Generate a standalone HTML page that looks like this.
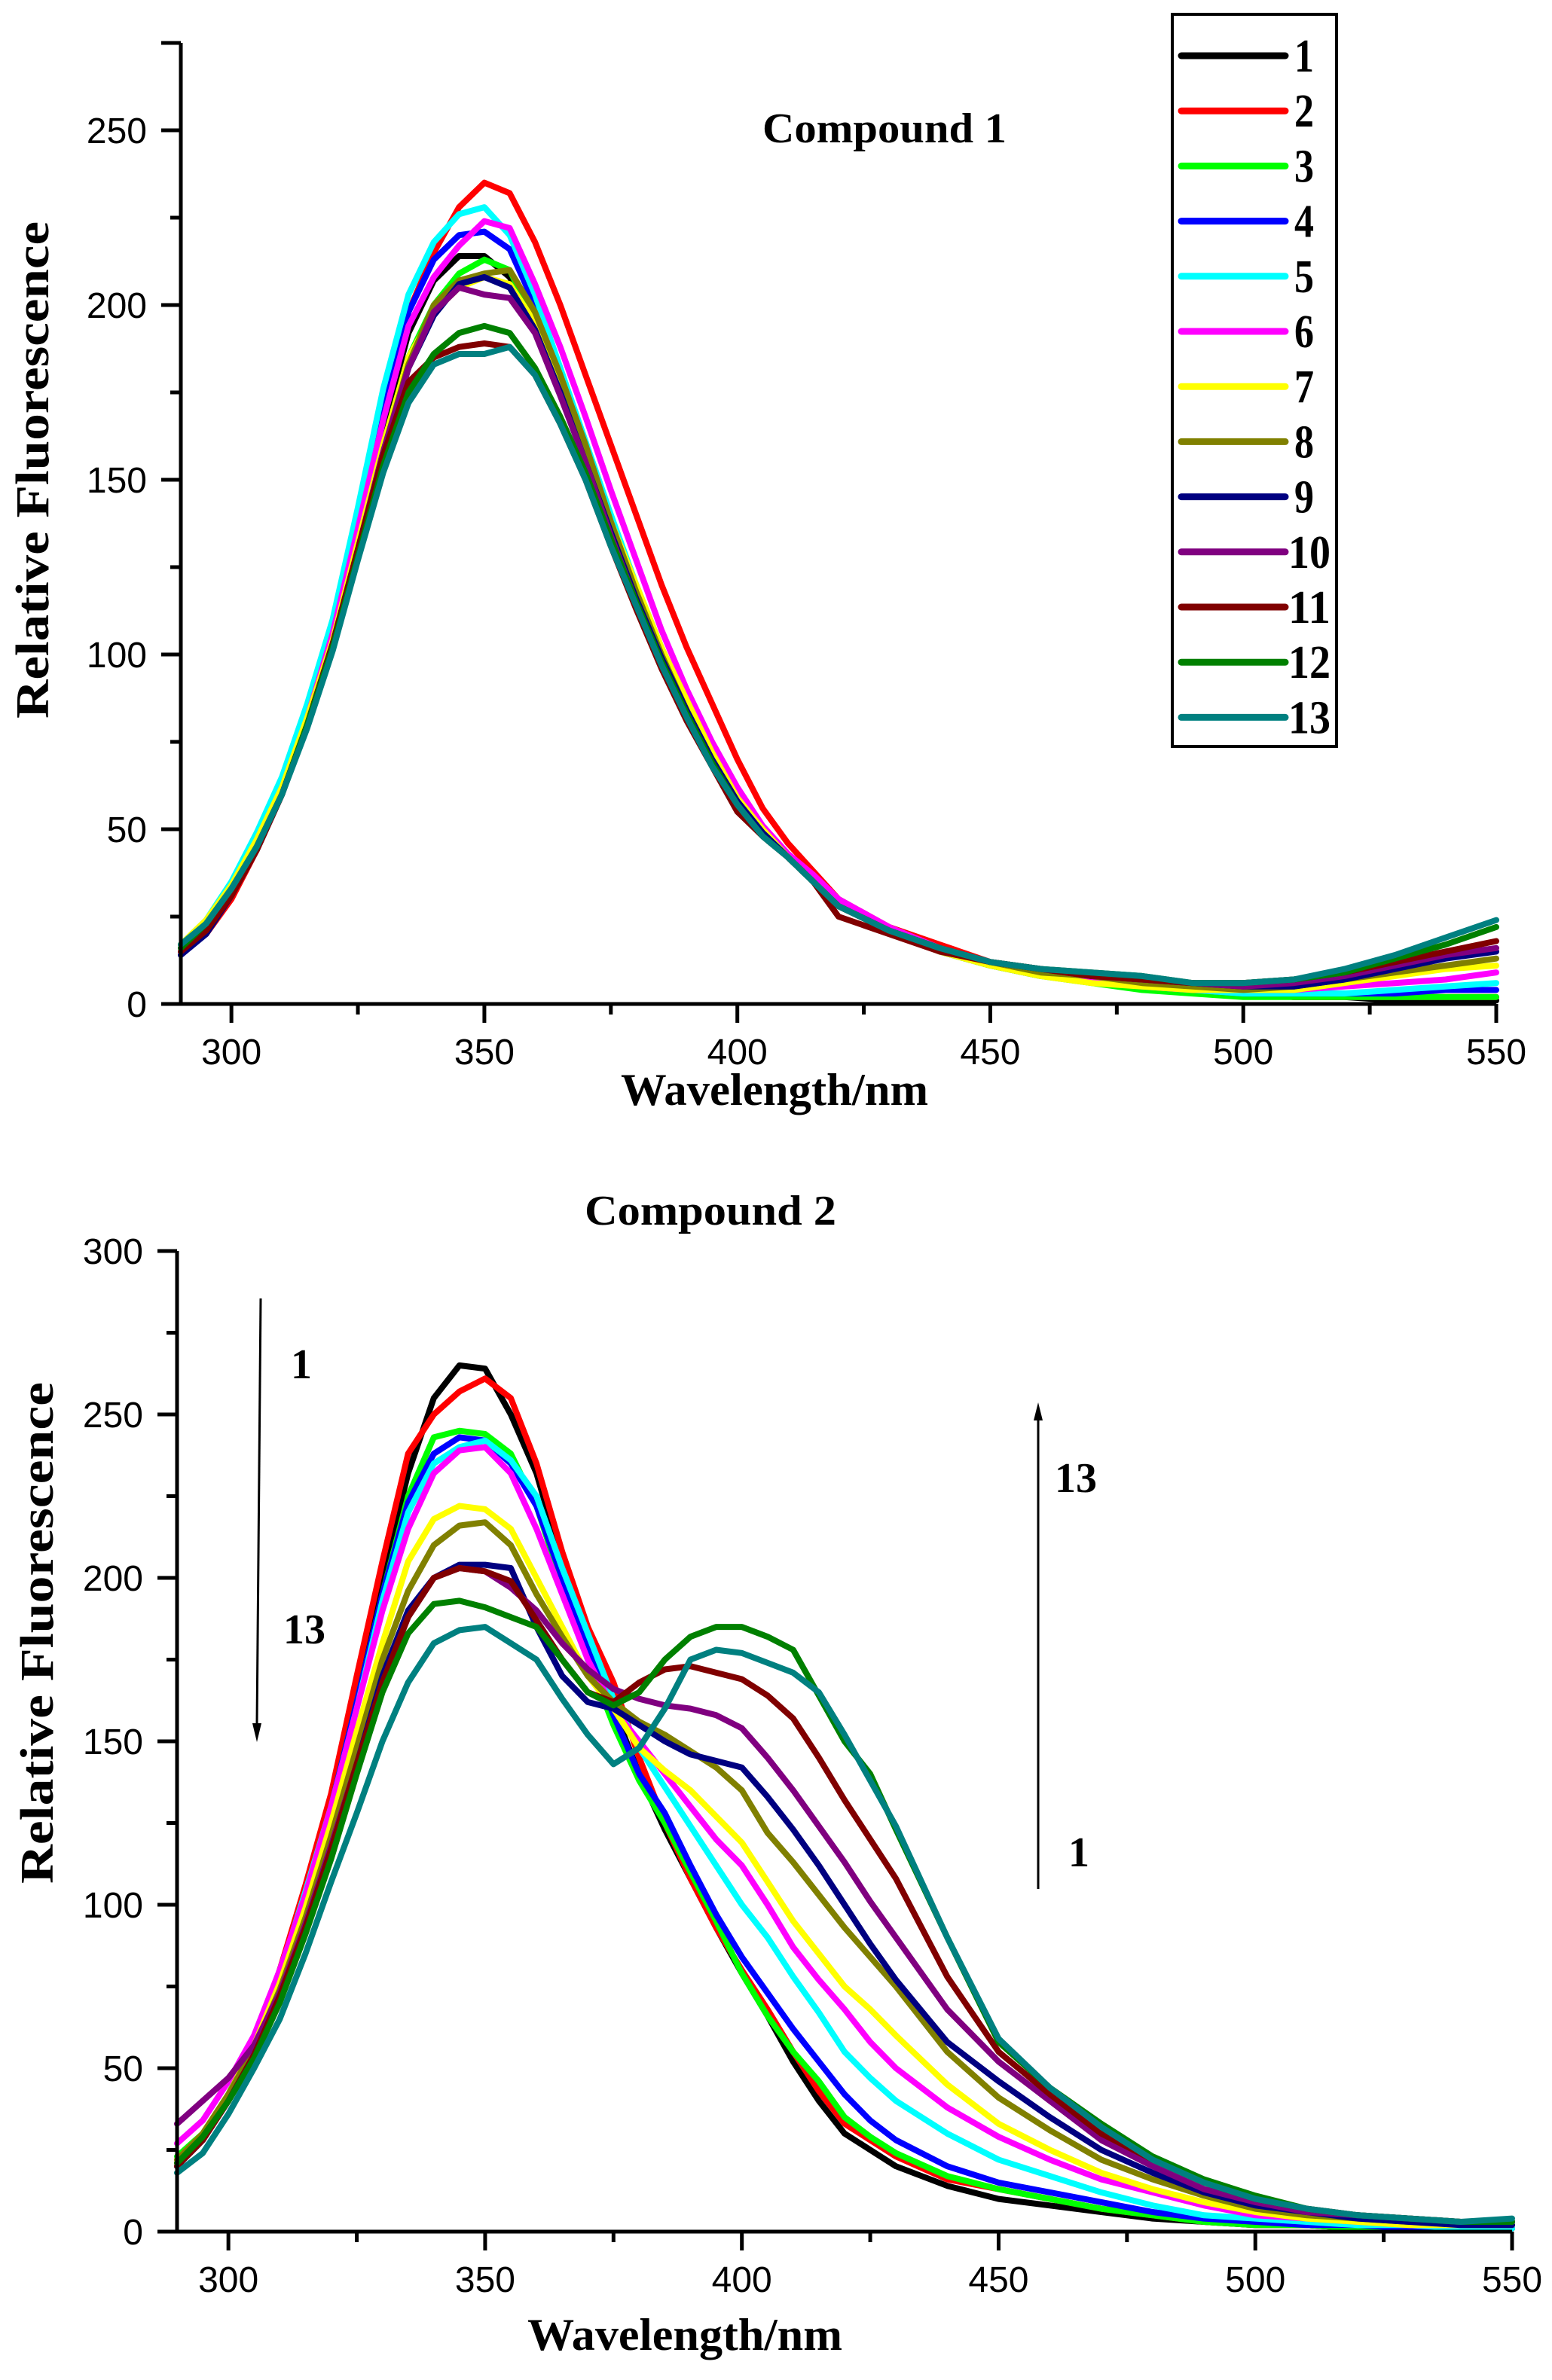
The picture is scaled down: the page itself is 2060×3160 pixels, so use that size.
<!DOCTYPE html>
<html><head><meta charset="utf-8">
<style>
html,body{margin:0;padding:0;background:#fff;}
svg{display:block;}
.tick{font-family:"Liberation Sans",sans-serif;font-size:48px;fill:#000;}
.bold{font-family:"Liberation Serif",serif;font-weight:bold;fill:#000;}
</style></head>
<body>
<svg id="chart" width="2060" height="3160" viewBox="0 0 2060 3160" xmlns="http://www.w3.org/2000/svg">
<rect width="2060" height="3160" fill="#fff"/>
<g id="top"></g>
<g id="bot"></g>
<text class="bold" x="1012" y="189" font-size="56" textLength="324" lengthAdjust="spacingAndGlyphs">Compound 1</text>
<text class="bold" x="776" y="1626" font-size="56" textLength="334" lengthAdjust="spacingAndGlyphs">Compound 2</text>
<text class="bold" x="824" y="1467" font-size="60" textLength="408" lengthAdjust="spacingAndGlyphs">Wavelength/nm</text>
<text class="bold" x="700" y="3120" font-size="60" textLength="418" lengthAdjust="spacingAndGlyphs">Wavelength/nm</text>
<text class="bold" font-size="62" textLength="660" lengthAdjust="spacingAndGlyphs" transform="translate(64,954) rotate(-90)">Relative Fluorescence</text>
<text class="bold" font-size="62" textLength="666" lengthAdjust="spacingAndGlyphs" transform="translate(70,2501) rotate(-90)">Relative Fluorescence</text>
<g>
<line x1="346" y1="1724" x2="341" y2="2290" stroke="#000" stroke-width="3"/>
<polygon points="335,2288 347,2288 341,2313" fill="#000"/>
</g>
<g>
<line x1="1378" y1="2508" x2="1378" y2="1884" stroke="#000" stroke-width="3"/>
<polygon points="1372,1886 1384,1886 1378,1862" fill="#000"/>
</g>
<text class="bold" x="386" y="1830" font-size="56">1</text>
<text class="bold" x="376" y="2182" font-size="56">13</text>
<text class="bold" x="1400" y="1981" font-size="56">13</text>
<text class="bold" x="1418" y="2478" font-size="56">1</text>
<g id="legend"></g>
</svg>
<script>
const NS="http://www.w3.org/2000/svg";
const colors=["#000000","#ff0000","#00ff00","#0000ff","#00ffff","#ff00ff","#ffff00","#808000","#000080","#800080","#800000","#008000","#008080"];
const seriesLabels=["1","2","3","4","5","6","7","8","9","10","11","12","13"];
const xTicks=[300,350,400,450,500,550];
const xMinor=[325,375,425,475,525];
const topYTicks=[0,50,100,150,200,250];
const botYTicks=[0,50,100,150,200,250,300];

const topX=[290,295,300,305,310,315,320,325,330,335,340,345,350,355,360,365,370,375,380,385,390,395,400,405,410,415,420,430,440,450,460,470,480,490,500,510,520,530,540,550];
const top1=[16,22,32,45,61,82,106,135,165,192,207,214,214,208,193,176,156,135,116,99,84,70,57,49,42,35,28,21,15,11,8,7,6,5,3,2,2,1,1,1];
const top2=[15,20,30,44,60,82,107,138,170,198,215,228,235,232,218,200,180,160,140,120,102,86,70,56,46,38,30,22,17,12,9,7,5,4,3,2,2,2,2,2];
const top3=[17,23,33,46,62,82,105,133,160,185,200,209,213,210,195,178,158,137,118,100,84,70,58,49,42,35,28,21,15,11,8,6,4,3,2,2,2,2,2,2];
const top4=[14,21,32,46,63,84,108,138,170,198,213,220,221,216,200,180,160,138,118,100,85,70,58,49,42,35,28,21,16,12,9,7,5,4,3,3,3,3,4,4];
const top5=[17,24,35,49,65,86,110,142,176,203,218,226,228,220,203,182,161,140,120,102,86,71,59,50,42,35,28,21,16,12,9,7,5,4,3,3,3,4,5,6];
const top6=[16,22,32,45,61,82,106,136,167,194,208,217,224,222,206,188,168,147,127,107,90,75,62,51,43,37,30,22,16,12,9,7,5,4,4,4,5,6,7,9];
const top7=[17,24,34,47,62,82,104,132,160,185,198,205,208,206,195,178,158,138,120,102,87,72,59,50,42,35,28,21,15,11,8,6,5,4,4,4,6,8,10,11];
const top8=[16,22,32,45,60,80,103,130,158,183,200,207,209,210,198,180,160,138,118,100,84,70,58,49,42,35,28,21,16,12,9,8,6,5,4,5,7,9,11,13];
const top9=[14,20,31,44,60,80,103,130,157,182,197,206,208,205,193,175,155,135,116,99,84,70,58,49,42,35,28,21,16,12,10,8,7,6,5,5,7,10,13,15];
const top10=[16,22,32,45,60,80,103,130,158,182,198,205,203,202,192,174,155,134,115,98,83,69,57,48,42,35,28,21,16,12,10,8,7,6,5,6,8,11,14,16];
const top11=[15,21,31,44,60,80,103,130,157,178,185,188,189,188,180,166,150,131,113,96,81,68,55,48,42,35,25,20,15,12,10,8,7,6,6,7,9,12,15,18];
const top12=[16,23,33,45,60,80,102,128,154,175,186,192,194,192,182,168,152,133,115,98,83,69,57,48,42,35,28,21,16,12,10,9,8,6,6,7,9,13,17,22];
const top13=[17,23,33,45,60,79,101,127,152,172,183,186,186,188,180,166,150,131,114,97,82,68,57,48,42,35,28,21,16,12,10,9,8,6,6,7,10,14,19,24];

const botX=[290,295,300,305,310,315,320,325,330,335,340,345,350,355,360,365,370,375,380,385,390,395,400,405,410,415,420,425,430,440,450,460,470,480,490,500,510,520,530,540,550];
const bot1=[20,28,42,58,80,105,132,165,200,232,255,265,264,250,232,205,180,160,140,123,108,93,79,66,52,40,30,25,20,14,10,8,6,4,3,2,2,1,1,1,1];
const bot2=[21,28,42,58,80,106,134,170,205,238,250,257,261,255,235,208,185,168,145,125,108,93,80,68,55,43,33,28,23,16,13,10,7,5,3,2,2,1,1,1,2];
const bot3=[23,30,42,57,78,103,130,162,195,225,243,245,244,238,222,198,175,155,138,125,110,95,79,66,55,46,35,29,24,17,13,10,7,5,3,2,2,1,1,1,1];
const bot4=[20,28,41,57,78,103,130,162,195,223,238,243,242,235,222,200,178,158,140,128,112,97,84,73,62,52,42,34,28,20,15,12,9,6,4,3,2,2,1,1,1];
const bot5=[20,28,42,58,79,104,130,160,193,220,235,240,242,236,225,203,183,163,148,136,124,112,100,90,78,67,55,47,40,30,22,17,12,8,5,4,3,2,2,1,1];
const bot6=[27,34,46,60,80,103,130,160,190,215,232,239,240,232,215,195,175,160,150,140,130,120,112,100,87,77,68,58,50,38,29,22,16,12,8,5,4,3,2,2,2];
const bot7=[22,30,42,57,76,99,125,153,180,205,218,222,221,215,200,185,170,160,148,141,135,127,119,107,95,85,75,68,60,45,33,25,18,13,9,6,4,3,2,2,2];
const bot8=[22,30,42,56,74,96,121,148,175,196,210,216,217,210,195,182,170,162,156,152,147,142,135,122,113,103,93,84,75,55,41,31,22,16,11,7,5,4,3,3,3];
const bot9=[20,28,40,54,72,94,118,143,170,190,200,204,204,203,185,170,162,160,155,150,146,144,142,133,123,112,100,88,77,58,46,35,25,18,12,8,6,4,3,2,2];
const bot10=[33,40,47,57,73,94,118,143,168,188,200,203,202,197,190,180,172,166,163,161,160,158,154,145,135,124,113,101,90,68,52,40,28,20,13,9,6,5,4,3,3];
const bot11=[20,28,40,54,72,93,117,143,168,188,200,203,202,199,187,175,165,162,168,172,173,171,169,164,157,145,132,120,108,78,55,42,30,22,15,10,7,5,4,3,3];
const bot12=[21,29,40,53,70,91,114,140,165,183,192,193,191,188,185,175,165,161,165,175,182,185,185,182,178,164,150,140,123,90,58,44,33,23,16,11,7,5,4,3,3];
const bot13=[18,24,36,50,65,85,107,128,150,168,180,184,185,180,175,163,152,143,148,160,175,178,177,174,171,165,152,138,124,90,59,44,32,22,15,10,7,5,4,3,4];

const topSeries=[top1,top2,top3,top4,top5,top6,top7,top8,top9,top10,top11,top12,top13];
const botSeries=[bot1,bot2,bot3,bot4,bot5,bot6,bot7,bot8,bot9,bot10,bot11,bot12,bot13];

function mk(tag,attrs,parent){const e=document.createElementNS(NS,tag);for(const k in attrs)e.setAttribute(k,attrs[k]);parent.appendChild(e);return e;}

function drawChart(g,cfg,xs,series,yTicks,prefix){
  const sx=v=>cfg.x0+(v-290)*(cfg.x1-cfg.x0)/260;
  const sy=v=>cfg.y0-v*cfg.ppu;
  // series
  series.forEach((vals,i)=>{
    let d="";
    vals.forEach((v,j)=>{d+=(j?"L":"M")+sx(xs[j]).toFixed(1)+","+sy(v).toFixed(1);});
    const p=mk("path",{d:d,fill:"none",stroke:colors[i],"stroke-width":8,"stroke-linejoin":"round","stroke-linecap":"round"},g);
    
    
  });
  // axes
  const ax=mk("path",{d:"M"+cfg.x0+","+cfg.yTop+"L"+cfg.x0+","+cfg.y0+"L"+cfg.x1+","+cfg.y0,fill:"none",stroke:"#000","stroke-width":5},g);
  
  
  mk("line",{x1:cfg.x0-26,y1:cfg.yTop,x2:cfg.x0,y2:cfg.yTop,stroke:"#000","stroke-width":5},g);
  yTicks.forEach(v=>{
    mk("line",{x1:cfg.x0-26,y1:sy(v),x2:cfg.x0,y2:sy(v),stroke:"#000","stroke-width":5},g);
    const t=mk("text",{x:cfg.x0-45,y:sy(v)+17,"text-anchor":"end",class:"tick"},g);
    t.textContent=v;
    
    
    if(sy(v+25)>cfg.yTop+5) mk("line",{x1:cfg.x0-14,y1:sy(v+25),x2:cfg.x0,y2:sy(v+25),stroke:"#000","stroke-width":5},g);
  });
  xTicks.forEach(v=>{
    mk("line",{x1:sx(v),y1:cfg.y0,x2:sx(v),y2:cfg.y0+25,stroke:"#000","stroke-width":5},g);
    const t=mk("text",{x:sx(v),y:cfg.y0+80,"text-anchor":"middle",class:"tick"},g);
    t.textContent=v;
    
    
  });
  xMinor.forEach(v=>{mk("line",{x1:sx(v),y1:cfg.y0,x2:sx(v),y2:cfg.y0+14,stroke:"#000","stroke-width":5},g);});
}
drawChart(document.getElementById("top"),{x0:240,x1:1986,y0:1333,ppu:4.64,yTop:57},topX,topSeries,topYTicks,"top");
drawChart(document.getElementById("bot"),{x0:235,x1:2007,y0:2963,ppu:4.34,yTop:1661},botX,botSeries,botYTicks,"bottom");

const lg=document.getElementById("legend");
mk("rect",{x:1556,y:19,width:218,height:972,fill:"#fff",stroke:"#000","stroke-width":4},lg);
seriesLabels.forEach((lab,i)=>{
  const y=74+i*73.2;
  const e=mk("g",{},lg);
  
  
  mk("line",{x1:1568,y1:y,x2:1706,y2:y,stroke:colors[i],"stroke-width":9,"stroke-linecap":"round"},e);
  const t=mk("text",{x:1710,y:y+21,class:"bold","font-size":62,textLength:lab.length>1?56:26,lengthAdjust:"spacingAndGlyphs"},e);
  if(lab.length===1)t.setAttribute("x",1718);
  t.textContent=lab;
});
</script>
</body></html>
